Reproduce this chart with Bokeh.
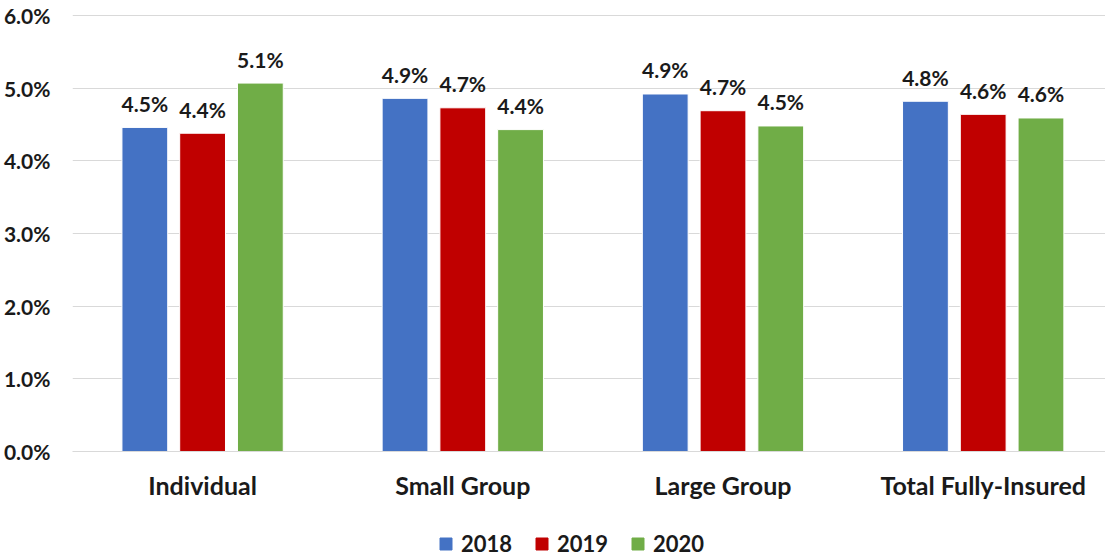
from bokeh.plotting import figure
from bokeh.models import ColumnDataSource, FixedTicker, Legend, LegendItem, Range1d
from bokeh.layouts import column
from bokeh.core.properties import value
from bokeh.transform import dodge
from bokeh.embed import file_html
from bokeh.resources import INLINE

categories = ["Individual", "Small Group", "Large Group", "Total Fully-Insured"]
years = ["2018", "2019", "2020"]
v2018 = [4.46, 4.86, 4.92, 4.82]
v2019 = [4.38, 4.73, 4.69, 4.64]
v2020 = [5.07, 4.43, 4.48, 4.59]
y_ticks = [0, 1, 2, 3, 4, 5, 6]

colors = ["#4472C4", "#C00000", "#70AD47"]
FONT = "Lato"
TXT = "#1a1a1a"

xi = list(range(len(categories)))
src = ColumnDataSource(dict(
    x=xi,
    v2018=v2018, v2019=v2019, v2020=v2020,
    l2018=[f"{v:.1f}%" for v in v2018],
    l2019=[f"{v:.1f}%" for v in v2019],
    l2020=[f"{v:.1f}%" for v in v2020],
))

p = figure(frame_width=1033, frame_height=441, output_backend="svg", toolbar_location=None,
           x_range=Range1d(-0.5, 3.47), y_range=Range1d(0, 6.069),
           min_border_left=65, min_border_right=0, min_border_top=10, min_border_bottom=74)
p.outline_line_color = None
p.background_fill_color = "white"

offsets = [-0.222, 0.0, 0.222]
for yr, off, col in zip(years, offsets, colors):
    p.vbar(x=dodge("x", off), top="v" + yr, width=0.176, bottom=0, source=src,
           fill_color=col, line_color="white", line_width=1)
    p.text(x=dodge("x", off), y="v" + yr, text="l" + yr, source=src,
           text_align="center", text_baseline="alphabetic", y_offset=-24,
           text_font=value(FONT), text_font_style="bold", text_font_size="21px",
           text_color=TXT)

# axes
p.xaxis.ticker = FixedTicker(ticks=xi)
p.xaxis.major_label_overrides = {i: c for i, c in enumerate(categories)}
p.xaxis.major_tick_line_color = None
p.xaxis.minor_tick_line_color = None
p.xaxis.axis_line_color = "#D9D9D9"
p.xaxis.major_label_text_font = FONT
p.xaxis.major_label_text_font_style = "bold"
p.xaxis.major_label_text_font_size = "25px"
p.xaxis.major_label_text_color = TXT
p.xaxis.major_label_standoff = 12
p.xgrid.grid_line_color = None

p.yaxis.ticker = FixedTicker(ticks=y_ticks)
p.yaxis.major_label_overrides = {t: f"{t:.1f}%" for t in y_ticks}
p.yaxis.major_tick_line_color = None
p.yaxis.minor_tick_line_color = None
p.yaxis.axis_line_color = None
p.yaxis.major_label_text_font = FONT
p.yaxis.major_label_text_font_style = "bold"
p.yaxis.major_label_text_font_size = "21px"
p.yaxis.major_label_text_color = TXT
p.yaxis.major_label_standoff = 16
p.ygrid.grid_line_color = "#D9D9D9"
p.ygrid.grid_line_width = 1

# legend strip (series renderers kept out of its visible range; only the legend shows)
lg = figure(width=1098, height=32, output_backend="svg", toolbar_location=None,
            x_range=Range1d(100, 101), y_range=Range1d(100, 101),
            min_border=0, x_axis_type=None, y_axis_type=None)
lg.outline_line_color = None
lg.xgrid.grid_line_color = None
lg.ygrid.grid_line_color = None
swatches = []
for yr, off, col in zip(years, offsets, colors):
    swatches.append(lg.vbar(x=dodge("x", off), top="v" + yr, width=0.176, bottom=0,
                            source=src, fill_color=col, line_color=col))
legend = Legend(items=[LegendItem(label=yr, renderers=[r]) for yr, r in zip(years, swatches)],
                orientation="horizontal", location=(366, 0),
                label_text_font=FONT, label_text_font_style="bold",
                label_text_font_size="22px", label_text_color=TXT,
                glyph_width=15, glyph_height=15, label_standoff=8, spacing=22,
                label_height=22, border_line_color=None, background_fill_alpha=0,
                padding=2, margin=0)
lg.add_layout(legend, "center")

layout = column(p, lg, spacing=0)
open("out.html", "w").write(file_html(layout, INLINE))
